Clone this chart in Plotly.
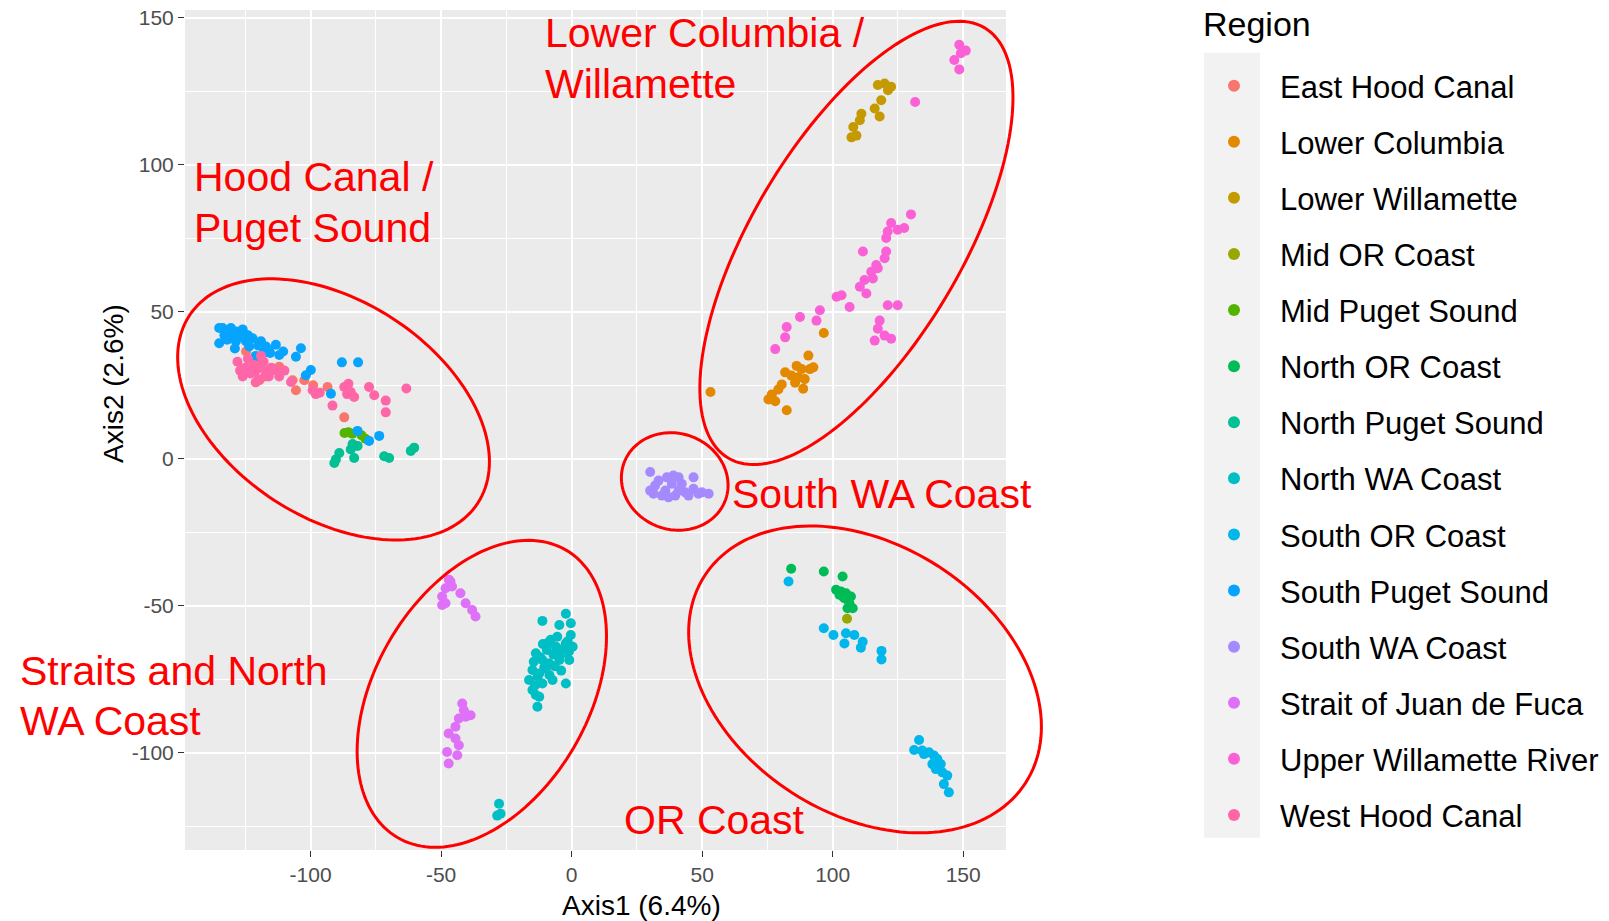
import numpy as np
import plotly.graph_objects as go

regions = ["East Hood Canal", "Lower Columbia", "Lower Willamette", "Mid OR Coast",
           "Mid Puget Sound", "North OR Coast", "North Puget Sound", "North WA Coast",
           "South OR Coast", "South Puget Sound", "South WA Coast", "Strait of Juan de Fuca",
           "Upper Willamette River", "West Hood Canal"]
colors = ["#F8766D", "#E38900", "#C49A00", "#99A800", "#53B400", "#00BC56", "#00C094",
          "#00BFC4", "#00B6EB", "#06A4FF", "#A58AFF", "#DF70F8", "#FB61D7", "#FF66A8"]

# Axis1 / Axis2 scores
ehc_x = [-124.7, -122.2, -119.6, -115.8, -112.0, -106.9, -105.6, -102.4, -93.5, -87.1, -121.0, -117.5, -99.0]
ehc_y = [36.5, 29.6, 26.7, 30.2, 31.3, 26.7, 23.3, 26.7, 24.4, 14.1, 33.0, 28.0, 25.0]

lc_x = [53.2, 90.7, 96.6, 86.2, 88.1, 91.3, 92.6, 84.2, 86.8, 89.3, 81.8, 88.7, 80.5, 79.2, 76.7, 75.4, 78.0, 82.4, 85.6]
lc_y = [22.7, 35.1, 42.8, 31.6, 30.5, 30.5, 31.1, 28.3, 27.7, 27.1, 29.4, 23.8, 25.3, 23.6, 21.9, 20.2, 19.6, 16.5, 25.9]

lw_x = [119.9, 122.4, 117.3, 118.6, 116.1, 118.0, 111.0, 110.4, 107.9, 109.1, 107.2, 121.2]
lw_y = [127.6, 126.5, 127.1, 121.9, 119.1, 116.4, 117.3, 115.1, 112.8, 109.9, 109.3, 125.3]

moc_x = [105.5]
moc_y = [-54.4]

mps_x = [-87.0, -85.5, -84.0, -80.5, -79.0]
mps_y = [8.8, 9.0, 8.5, 8.0, 6.8]

noc_x = [84.1, 96.6, 103.8, 101.3, 103.2, 105.1, 107.0, 102.6, 104.5, 106.4, 107.7, 105.7, 103.8]
noc_y = [-37.4, -38.3, -40.0, -44.5, -45.1, -45.7, -46.8, -46.2, -47.4, -49.1, -50.8, -50.8, -46.8]

nps_x = [-90.3, -89.0, -84.6, -83.3, -82.0, -83.9, -71.8, -69.9, -60.3, -61.6, -90.9]
nps_y = [-0.2, 2.0, 3.2, 0.3, 4.4, 5.0, 0.9, 0.3, 3.8, 2.7, -1.4]

nwac_x = [-11.2, -4.7, -2.2, -0.3, -0.3, -2.2, 0.4, -6.0, -13.7, -11.2, -8.6, -4.7, -0.9, -15.0, -12.4,
          -9.9, -7.3, -16.3, -15.0, -12.4, -13.1, -2.2, -11.2, -3.5, -13.7, -27.8, -28.5, -27.2,
          -8.0, -5.5, -3.0, -1.5, -7.0, -9.5, -12.0, -14.5, -10.5, -6.5, -4.0, -13.0, -11.0, -8.5,
          -1.0, -5.0, -9.0, -14.0]
nwac_y = [-55.1, -56.5, -52.7, -55.9, -59.9, -62.7, -63.9, -63.9, -66.1, -68.4, -69.5, -68.4, -68.4, -71.8, -73.0,
          -71.3, -75.2, -75.2, -78.6, -80.9, -84.3, -76.4, -76.4, -66.1, -80.3, -117.3, -121.3, -120.7,
          -61.5, -60.5, -64.5, -62.0, -66.5, -65.0, -67.5, -69.0, -71.0, -70.5, -72.0, -74.0, -63.0, -73.5,
          -65.5, -66.0, -62.5, -77.0]

soc_x = [83.1, 96.6, 100.3, 105.1, 108.3, 104.5, 111.5, 110.8, 118.7, 118.7,
         133.1, 131.2, 134.3, 136.9, 138.8, 140.1, 141.4, 139.5, 142.0, 143.9, 142.6, 144.5, 138.2, 135.0]
soc_y = [-41.7, -57.6, -59.9, -59.3, -59.9, -62.8, -62.2, -64.2, -65.3, -68.2,
         -95.6, -99.0, -99.2, -99.8, -100.9, -102.1, -103.8, -105.5, -106.6, -107.7, -110.6, -113.4, -103.8, -100.4]

sps_x = [-135.0, -133.7, -130.5, -128.6, -126.7, -124.7, -122.2, -123.5, -128.6, -135.0, -131.5, -133.0, -126.0,
         -120.0, -117.1, -113.3, -112.0, -115.5, -110.5, -103.7, -105.6, -99.9, -101.8, -88.0, -81.8, -92.2,
         -82.0, -77.6, -73.7, -129.0, -121.0, -118.0, -132.0, -127.5, -124.0, -119.0, -116.0, -130.0]
sps_y = [44.5, 44.5, 44.5, 43.3, 41.6, 39.9, 41.0, 38.2, 39.9, 39.3, 41.5, 42.0, 44.0,
         38.5, 38.2, 38.8, 35.3, 36.0, 36.5, 37.6, 34.7, 30.2, 28.4, 32.8, 32.8, 22.1,
         9.5, 6.1, 7.8, 37.5, 35.0, 36.0, 40.5, 42.5, 42.0, 40.0, 37.0, 42.8]

swac_x = [30.1, 33.3, 31.4, 35.9, 38.4, 41.0, 41.0, 42.2, 46.7, 46.7, 49.9, 52.5, 34.6, 37.1, 39.7, 43.5,
          32.0, 36.5, 39.0, 30.1, 44.8, 48.6]
swac_y = [-4.5, -7.4, -11.9, -10.8, -8.5, -6.3, -10.8, -8.5, -6.3, -10.2, -11.4, -11.9, -12.5, -13.1, -12.5, -11.4,
          -9.1, -6.3, -5.7, -10.8, -12.5, -11.9]

sjf_x = [-47.0, -48.3, -49.6, -48.3, -45.8, -42.6, -40.6, -38.1, -36.8, -49.6, -46.4,
         -41.9, -41.3, -38.7, -43.2, -44.5, -47.1, -44.5, -43.2, -47.7, -43.8, -47.1, -40.6]
sjf_y = [-41.1, -44.0, -46.8, -49.1, -43.4, -45.7, -49.1, -51.4, -53.6, -49.7, -41.7,
         -83.2, -85.5, -87.2, -88.3, -91.1, -93.4, -95.1, -97.4, -99.7, -100.8, -103.6, -87.7]

uwr_x = [148.5, 151.0, 146.6, 148.5, 149.1, 131.6,
         130.0, 122.4, 121.1, 124.9, 127.4, 120.5, 120.5, 119.9, 111.6, 117.3, 114.8, 112.2, 110.4, 112.9,
         115.4, 116.7, 103.4, 101.5, 106.5, 121.1, 124.9, 118.0, 117.3, 119.9, 122.4, 116.1, 95.1, 93.8,
         87.5, 82.4, 81.8, 78.0]
uwr_y = [140.8, 138.8, 135.6, 132.4, 137.9, 121.3,
         83.1, 80.2, 77.3, 77.9, 78.5, 75.1, 70.5, 68.2, 70.5, 64.8, 63.6, 60.8, 58.5, 56.2,
         61.3, 65.9, 55.6, 55.1, 51.6, 52.2, 52.2, 47.0, 44.2, 41.9, 40.8, 40.2, 50.5, 47.0,
         48.2, 44.8, 41.3, 37.3]

whc_x = [-128, -127, -125, -124, -123, -122, -121, -120, -119, -118, -117, -116, -115, -113, -112, -110,
         -126, -119, -121, -107.5, -99.2, -98.0, -91.6, -87.1, -84.6, -83.3, -86.0, -77.6, -75.6, -71.2,
         -71.2, -63.3, -96.5, -85.5]
whc_y = [33, 30, 31, 34, 29, 32, 30, 27, 31, 33, 29, 28, 31, 30, 28, 30,
         28, 35, 26, 26.1, 23.3, 22.0, 18.1, 24.4, 22.7, 21.0, 22.0, 24.4, 21.6, 19.8,
         15.8, 23.9, 22.5, 25.5]

xs = [ehc_x, lc_x, lw_x, moc_x, mps_x, noc_x, nps_x, nwac_x, soc_x, sps_x, swac_x, sjf_x, uwr_x, whc_x]
ys = [ehc_y, lc_y, lw_y, moc_y, mps_y, noc_y, nps_y, nwac_y, soc_y, sps_y, swac_y, sjf_y, uwr_y, whc_y]

tick_vals = [-100, -50, 0, 50, 100, 150]
tick_text = ["-100", "-50", "0", "50", "100", "150"]

# Highlight ellipses: centre (data units), semi-axes (px), tilt (deg)
ell_cx = [-91.2, 109.1, 39.5, -34.4, 112.4]
ell_cy = [16.8, 73.4, -7.7, -79.9, -75.0]
ell_a = [172.0, 250.4, 54.0, 166.6, 191.0]
ell_b = [108.5, 104.6, 48.0, 106.5, 134.8]
ell_ang = [-33.0, 59.2, -20.0, 59.6, -32.8]

# Group labels, one entry per text line (left edge px, line centre px)
label_lines = ["Lower Columbia /", "Willamette", "Hood Canal /", "Puget Sound", "South WA Coast",
               "Straits and North", "WA Coast", "OR Coast"]
label_x = [543, 543, 192, 192, 729.6, 17.5, 17.5, 622]
label_y = [33.4, 83.6, 177.0, 227.8, 494.5, 671.0, 721.0, 820.0]

W, H = 1609, 921
ML, MR, MT, MB = 185, 603, 10, 71
xr = [-148.1, 166.4]
yr = [-133.0, 152.6]
pw = W - ML - MR
ph = H - MT - MB

def px2paper(px, py):
    return (px - ML) / pw, (H - MB - py) / ph

fig = go.Figure()
for name, col, x, y in zip(regions, colors, xs, ys):
    fig.add_trace(go.Scatter(x=x, y=y, mode="markers", name=name, legendgroup=name,
                             marker=dict(color=col, size=10, line=dict(width=0))))

shapes = []
t = np.linspace(0, 2 * np.pi, 161)
for cx, cy, a, b, ang in zip(ell_cx, ell_cy, ell_a, ell_b, ell_ang):
    th = np.deg2rad(ang)
    dx = a * np.cos(t) * np.cos(th) - b * np.sin(t) * np.sin(th)
    dy = a * np.cos(t) * np.sin(th) + b * np.sin(t) * np.cos(th)
    pcx = (cx - xr[0]) / (xr[1] - xr[0])
    pcy = (cy - yr[0]) / (yr[1] - yr[0])
    ex = pcx + dx / pw
    ey = pcy + dy / ph
    path = "M " + " L ".join(f"{u:.5f},{v:.5f}" for u, v in zip(ex, ey)) + " Z"
    shapes.append(dict(type="path", path=path, xref="paper", yref="paper",
                       line=dict(color="#FF0000", width=3), layer="above"))

kx0, ky1 = px2paper(1204, 52.7)
kx1, ky0 = px2paper(1260, 837.7)
shapes.append(dict(type="rect", xref="paper", yref="paper", x0=kx0, x1=kx1, y0=ky0, y1=ky1,
                   fillcolor="#F2F2F2", line=dict(width=0), layer="below"))

annotations = []
for txt, tx, ty in zip(label_lines, label_x, label_y):
    px_, py_ = px2paper(tx, ty)
    annotations.append(dict(text=txt, x=px_, y=py_, xref="paper", yref="paper", xanchor="left",
                            yanchor="middle", align="left", showarrow=False,
                            font=dict(family="Liberation Sans", size=41, color="#FF0000")))
ax1x, ax1y = px2paper(641, 905)
annotations.append(dict(text="Axis1 (6.4%)", x=ax1x, y=ax1y, xref="paper", yref="paper",
                        xanchor="center", yanchor="middle", showarrow=False,
                        font=dict(family="Liberation Sans", size=28, color="#000000")))
ax2x, ax2y = px2paper(113, 384)
annotations.append(dict(text="Axis2 (2.6%)", x=ax2x, y=ax2y, xref="paper", yref="paper",
                        xanchor="center", yanchor="middle", showarrow=False, textangle=-90,
                        font=dict(family="Liberation Sans", size=28, color="#000000")))
rgx, rgy = px2paper(1201, 24)
annotations.append(dict(text="Region", x=rgx, y=rgy, xref="paper", yref="paper",
                        xanchor="left", yanchor="middle", showarrow=False,
                        font=dict(family="Liberation Sans", size=34, color="#000000")))

axis_common = dict(showgrid=True, gridcolor="#FFFFFF", gridwidth=1.5, zeroline=False,
                   ticks="outside", ticklen=6, tickwidth=1.3, tickcolor="#333333",
                   tickfont=dict(family="Liberation Sans", size=21, color="#4D4D4D"),
                   tickmode="array", tickvals=tick_vals, ticktext=tick_text, showline=False,
                   minor=dict(tickmode="linear", dtick=25, tick0=0, showgrid=True,
                              gridcolor="#FFFFFF", gridwidth=0.7))

lx, ly = px2paper(1188, 59)
fig.update_layout(
    width=W, height=H,
    margin=dict(l=ML, r=MR, t=MT, b=MB, autoexpand=False),
    paper_bgcolor="#FFFFFF", plot_bgcolor="#EBEBEB",
    xaxis=dict(range=xr, **axis_common),
    yaxis=dict(range=yr, **axis_common),
    shapes=shapes, annotations=annotations,
    showlegend=True,
    legend=dict(x=lx, y=ly, xanchor="left", yanchor="top", bgcolor="rgba(0,0,0,0)",
                font=dict(family="Liberation Sans", size=31, color="#000000"),
                tracegroupgap=12.8, itemwidth=82, itemsizing="constant"),
)

fig.write_html("out.html", config={"displayModeBar": False},
               post_script="document.body.style.margin='0px';document.body.style.overflow='hidden';")
